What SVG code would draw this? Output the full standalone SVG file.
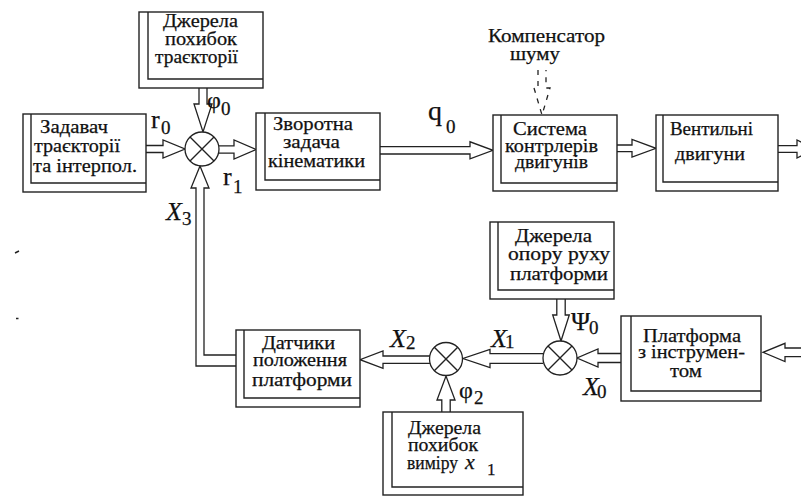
<svg xmlns="http://www.w3.org/2000/svg" width="801" height="496" viewBox="0 0 801 496">
<style>
.b{fill:#fff;stroke:#222;stroke-width:1.4}
.i{fill:none;stroke:#222;stroke-width:1.4}
.a{fill:#fff;stroke:#222;stroke-width:1.3;stroke-linejoin:miter}
.d{fill:none;stroke:#222;stroke-width:1.3;stroke-dasharray:5 6}
.j{fill:#fff;stroke:#222;stroke-width:1.3}
text{font-family:"Liberation Serif","DejaVu Serif","Times New Roman",serif;fill:#111;stroke:#111;stroke-width:0.25}
.t{font-size:19px}
.l{font-size:26px}
.s{font-size:19px}
.it{font-style:italic}
</style>
<rect width="801" height="496" fill="#fff"/>

<g id="connectors">
  <polyline class="a" points="146,145.5 163,145.5 163,140 185,149 163,158 163,152.5 146,152.5"/>
  <polyline class="a" points="199,88 199,104 194,104 203,132 212,104 207,104 207,88"/>
  <polyline class="a" points="219,145.8 234,145.8 234,140 256,149.5 234,159 234,153.2 219,153.2"/>
  <path class="a" d="M236,366 H196 V188 H191 L200,166 L209,188 H204 V355 H236"/>
  <polyline class="a" points="380,146.6 470,146.6 470,141.8 493,150.3 470,158.8 470,154 380,154"/>
  <polyline class="a" points="617,145 632,145 632,139.5 656,148.3 632,157 632,151.6 617,151.6"/>
  <polyline class="a" points="778,145.7 797,145.7 797,140 815,149 797,158 797,152.3 778,152.3"/>
  <polyline class="d" points="538,70 538,88 534,88 542,115 550,88 546,88 546,70"/>
  <polyline class="a" points="556.8,299 556.8,315 552.7,315 561,341 569.3,315 565.2,315 565.2,299"/>
  <polyline class="a" points="621,353.5 598,353.5 598,349 577,358 598,367 598,362.5 621,362.5"/>
  <polyline class="a" points="543,353.7 490,353.7 490,349.3 463,358.5 490,367.7 490,363.3 543,363.3"/>
  <polyline class="a" points="430,356 383,356 383,351 360,359.7 383,368.4 383,363.4 430,363.4"/>
  <polyline class="a" points="441.8,412 441.8,400 437,400 446,376 455,400 450.2,400 450.2,412"/>
  <polyline class="a" points="801,348 785,348 785,343.3 763,352.3 785,361.5 785,356.6 801,356.6"/>
</g>

<g id="J1">
  <circle class="j" cx="202" cy="149" r="17"/>
  <path class="i" d="M190,137 L214,161 M214,137 L190,161"/>
</g>
<g id="J2">
  <circle class="j" cx="446" cy="359" r="16.5"/>
  <path class="i" d="M434.3,347.3 L457.7,370.7 M457.7,347.3 L434.3,370.7"/>
</g>
<g id="J3">
  <circle class="j" cx="560" cy="358" r="17"/>
  <path class="i" d="M548,346 L572,370 M572,346 L548,370"/>
</g>

<g id="trajectory-errors">
  <rect class="b" x="139" y="12" width="124" height="76"/>
  <path class="i" d="M148,12 V79 H263"/>
  <text class="t" x="163" y="27" textLength="75" lengthAdjust="spacingAndGlyphs">Джерела</text>
  <text class="t" x="165" y="45" textLength="72" lengthAdjust="spacingAndGlyphs">похибок</text>
  <text class="t" x="155" y="63" textLength="83" lengthAdjust="spacingAndGlyphs">траєкторії</text>
</g>

<g id="setter">
  <rect class="b" x="23" y="114" width="123" height="78"/>
  <path class="i" d="M31,114 V183 H146"/>
  <text class="t" x="40" y="133" textLength="68" lengthAdjust="spacingAndGlyphs">Задавач</text>
  <text class="t" x="34" y="152" textLength="86" lengthAdjust="spacingAndGlyphs">траєкторії</text>
  <text class="t" x="33" y="172" textLength="104" lengthAdjust="spacingAndGlyphs">та інтерпол.</text>
</g>

<g id="inverse-kinematics">
  <rect class="b" x="256" y="113" width="124" height="77"/>
  <path class="i" d="M265,113 V180 H380"/>
  <text class="t" x="273" y="130" textLength="80" lengthAdjust="spacingAndGlyphs">Зворотна</text>
  <text class="t" x="283" y="148" textLength="57" lengthAdjust="spacingAndGlyphs">задача</text>
  <text class="t" x="268" y="167" textLength="97" lengthAdjust="spacingAndGlyphs">кінематики</text>
</g>

<g id="compensator">
  <text class="t" x="488" y="42" textLength="117" lengthAdjust="spacingAndGlyphs">Компенсатор</text>
  <text class="t" x="510" y="60" textLength="50" lengthAdjust="spacingAndGlyphs">шуму</text>
</g>

<g id="controllers">
  <rect class="b" x="493" y="115" width="124" height="76"/>
  <path class="i" d="M501,115 V183 H617"/>
  <text class="t" x="513" y="135" textLength="74" lengthAdjust="spacingAndGlyphs">Система</text>
  <text class="t" x="505" y="152" textLength="93" lengthAdjust="spacingAndGlyphs">контрлерів</text>
  <text class="t" x="515" y="168" textLength="73" lengthAdjust="spacingAndGlyphs">двигунів</text>
</g>

<g id="motors">
  <rect class="b" x="656" y="115" width="122" height="76"/>
  <path class="i" d="M663,115 V182 H778"/>
  <text class="t" x="670" y="135" textLength="83" lengthAdjust="spacingAndGlyphs">Вентильні</text>
  <text class="t" x="675" y="160" textLength="70" lengthAdjust="spacingAndGlyphs">двигуни</text>
</g>

<g id="resistance">
  <rect class="b" x="490" y="222" width="124" height="77"/>
  <path class="i" d="M498,222 V290 H614"/>
  <text class="t" x="515" y="242" textLength="77" lengthAdjust="spacingAndGlyphs">Джерела</text>
  <text class="t" x="508" y="260" textLength="102" lengthAdjust="spacingAndGlyphs">опору руху</text>
  <text class="t" x="510" y="280" textLength="98" lengthAdjust="spacingAndGlyphs">платформи</text>
</g>

<g id="platform">
  <rect class="b" x="621" y="316" width="140" height="85"/>
  <path class="i" d="M631,316 V391 H761"/>
  <text class="t" x="643" y="342" textLength="98" lengthAdjust="spacingAndGlyphs">Платформа</text>
  <text class="t" x="638" y="358" textLength="107" lengthAdjust="spacingAndGlyphs">з інструмен-</text>
  <text class="t" x="670" y="377" textLength="32" lengthAdjust="spacingAndGlyphs">том</text>
</g>

<g id="sensors">
  <rect class="b" x="236" y="330" width="124" height="77"/>
  <path class="i" d="M244,330 V398 H360"/>
  <text class="t" x="262" y="349" textLength="73" lengthAdjust="spacingAndGlyphs">Датчики</text>
  <text class="t" x="253" y="366" textLength="94" lengthAdjust="spacingAndGlyphs">положення</text>
  <text class="t" x="252" y="386" textLength="100" lengthAdjust="spacingAndGlyphs">платформи</text>
</g>

<g id="measurement-errors">
  <rect class="b" x="383" y="412" width="140" height="83"/>
  <path class="i" d="M392,412 V487 H523"/>
  <text class="t" x="408" y="434" textLength="73" lengthAdjust="spacingAndGlyphs">Джерела</text>
  <text class="t" x="408" y="451" textLength="70" lengthAdjust="spacingAndGlyphs">похибок</text>
  <text class="t" x="407" y="469" textLength="51" lengthAdjust="spacingAndGlyphs">виміру</text>
  <text class="it" x="465" y="469" font-size="22">x</text>
  <text x="487" y="475" font-size="17">1</text>
</g>

<g id="labels">
  <text class="l" x="151" y="128">r</text><text class="s" x="161" y="134">0</text>
  <text x="207" y="108" font-size="24">φ</text><text class="s" x="221" y="115">0</text>
  <text class="l" x="223" y="185">r</text><text class="s" x="233" y="193">1</text>
  <text x="428" y="120" font-size="28">q</text><text class="s" x="446" y="133">0</text>
  <text class="l it" x="166" y="220">X</text><text class="s" x="182" y="225">3</text>
  <text class="l it" x="390" y="347">X</text><text class="s" x="406" y="349">2</text>
  <text class="l it" x="491" y="347">X</text><text class="s" x="505" y="348">1</text>
  <text class="l it" x="583" y="395">X</text><text class="s" x="597" y="398">0</text>
  <text class="l" x="571" y="330">Ψ</text><text class="s" x="589" y="334">0</text>
  <text x="459" y="398" font-size="24">φ</text><text class="s" x="474" y="404">2</text>
</g>

<path class="i" d="M15,253 L19,251 M16,318.5 H18.5"/>
</svg>
